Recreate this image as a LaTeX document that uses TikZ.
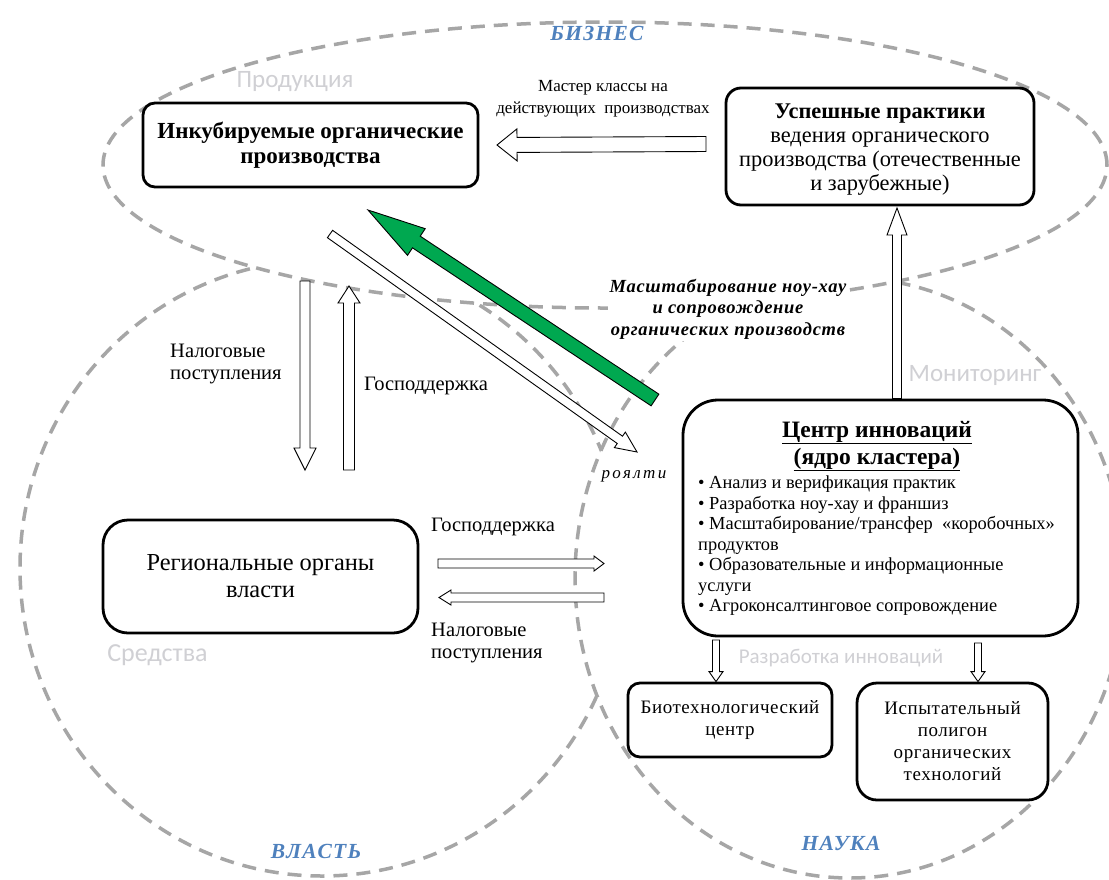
\documentclass[tikz,border=0pt]{standalone}
\usepackage{fontspec}
\setmainfont{Liberation Serif}
\newfontfamily\grayfont{Carlito}
\usetikzlibrary{calc}
\definecolor{dashgray}{RGB}{166,166,166}
\definecolor{lblgray}{RGB}{208,208,212}
\definecolor{lblblue}{RGB}{79,129,189}
\definecolor{arrgreen}{RGB}{0,168,80}
% opts, from, to, shaft half width, head half width, head length
\newcommand\myblockarrow[6][]{%
  \coordinate (bas) at (#2);
  \coordinate (bat) at (#3);
  \coordinate (bah) at ($(bat)!#6!(bas)$);
  \draw[#1] ($(bas)!#4!90:(bat)$) -- ($(bah)!#4!-90:(bas)$) -- ($(bah)!#5!-90:(bas)$) -- (bat)
     -- ($(bah)!#5!90:(bas)$) -- ($(bah)!#4!90:(bas)$) -- ($(bas)!#4!-90:(bat)$) -- cycle;
}
\tikzset{
 zone/.style={draw=dashgray, fill=white, line width=3.5pt, dash pattern=on 14pt off 9pt},
 box/.style={draw=black, line width=2.8pt, fill=white, rounded corners=#1, inner sep=0pt},
 hollow/.style={draw=black, line width=0.9pt, fill=white, line join=miter},
 greenarr/.style={draw=black, line width=0.9pt, fill=arrgreen, line join=miter},
 bluelbl/.style={text=lblblue, inner sep=0pt, font=\fontsize{21.5}{24}\selectfont\bfseries\itshape\addfontfeature{LetterSpace=6}},
 graylbl/.style={text=lblgray, inner sep=0pt, font=\grayfont\fontsize{#1}{24}\selectfont},
 lbl/.style={inner sep=0pt, font=\fontsize{20.5}{22}\selectfont},
}
\begin{document}
\begin{tikzpicture}[x=1pt,y=-1pt]
\useasboundingbox (0,0) rectangle (1109,879);
\clip (0,0) rectangle (1109,879);
\fill[white] (0,0) rectangle (1109,879);

% zones
\draw[zone] (322,568) ellipse [x radius=302pt, y radius=308pt];
\draw[zone] (850,578) ellipse [x radius=275pt, y radius=300pt];
\draw[zone] (605,165) ellipse [x radius=502pt, y radius=143pt];

% zone labels
\node[bluelbl] (lbiz) at (597,33) {БИЗНЕС};
\node[bluelbl] (lvl) at (316,851) {ВЛАСТЬ};
\node[bluelbl] (lnau) at (841,843) {НАУКА};
\node[graylbl=25] (lprod) at (295,82) {Продукция};
\node[graylbl=26] (lsred) at (157.5,655) {Средства};
\node[graylbl=25] (lmon) at (975,375) {Мониторинг};
\node[graylbl=21] (lraz) at (841,658) {Разработка инноваций};

% boxes
\node[box=12pt, minimum width=335pt, minimum height=84pt, align=center,
      font=\fontsize{23}{25}\selectfont\bfseries] (inc) at (310.5,145)
      {Инкубируемые органические\\производства};
\node[box=15pt, minimum width=308pt, minimum height=117pt] (usp) at (880,146.5) {};
\node[inner sep=0pt, align=center, font=\fontsize{22.4}{24}\selectfont] (uspt) at (880,149.5)
      {\textbf{Успешные практики}\\ведения органического\\производства (отечественные\\и зарубежные)};
\node[box=35pt, minimum width=395pt, minimum height=236pt] (cen) at (880.5,518) {};
\node[inner sep=0pt, align=center, font=\fontsize{23.5}{27}\selectfont\bfseries] (cent) at (877,446)
      {\underline{Центр  инноваций}\\\underline{(ядро кластера)}};
\node[inner sep=0pt, align=left, anchor=north west, font=\fontsize{18.4}{20.5}\selectfont] (cenb) at (698,476)
      {• Анализ и верификация практик\\
       • Разработка ноу-хау и франшиз\\
       • Масштабирование/трансфер \ «коробочных»\\
       продуктов\\
       • Образовательные и информационные\\
       услуги\\
       • Агроконсалтинговое сопровождение};
\node[box=25pt, minimum width=315pt, minimum height=113pt, align=center,
      font=\fontsize{24.4}{27}\selectfont] (reg) at (260.5,576.5)
      {Региональные органы\\власти};
\node[box=12pt, minimum width=204pt, minimum height=74pt, align=center,
      font=\fontsize{19}{22}\selectfont\addfontfeature{LetterSpace=3}] (bio) at (730,720)
      {Биотехнологический\\центр};
\node[box=20pt, minimum width=191pt, minimum height=117pt, align=center,
      font=\fontsize{19}{22}\selectfont\addfontfeature{LetterSpace=3}] (isp) at (952.5,741.5)
      {Испытательный\\полигон\\органических\\технологий};

% connector labels
\node[lbl, align=center, font=\fontsize{17}{22}\selectfont] (tmast) at (603,99)
      {Мастер классы на\\действующих \ производствах};
\node[lbl, align=left, anchor=west] (tnal1) at (170,364) {Налоговые\\поступления};
\node[lbl, anchor=west] (tgos1) at (364,386) {Господдержка};
\node[lbl, anchor=west] (tgos2) at (431,527) {Господдержка};
\node[lbl, align=left, anchor=west] (tnal2) at (431,643) {Налоговые\\поступления};
\node[inner sep=0pt, font=\fontsize{17}{20}\selectfont\itshape\addfontfeature{LetterSpace=14}] (troy) at (634,476) {роялти};
\node[fill=white, inner sep=2pt, align=center,
      font=\fontsize{18.5}{21.5}\selectfont\bfseries\itshape\addfontfeature{LetterSpace=4}] (tmas) at (728,309)
      {Масштабирование ноу-хау\\и сопровождение\\органических производств};

% connector end points
\coordinate (a1s) at (706,144);   \coordinate (a1t) at (inc.east -| 497,0);
\coordinate (a2s) at (cen.north -| 897,0); \coordinate (a2t) at (897,208);
\coordinate (a3s) at (305,281);   \coordinate (a3t) at (305,470);
\coordinate (a4s) at (349,470);   \coordinate (a4t) at (349,286);
\coordinate (a5s) at (330,234);   \coordinate (a5t) at (637,452);
\coordinate (a6s) at (655,400);   \coordinate (a6t) at (368,210);
\coordinate (a7s) at (438,563.5); \coordinate (a7t) at (604,563.5);
\coordinate (a8s) at (604,597.5); \coordinate (a8t) at (439,597.5);
\coordinate (a9s) at (716,640);   \coordinate (a9t) at (bio.north -| 716,0);
\coordinate (a10s) at (978,643);  \coordinate (a10t) at (isp.north -| 978,0);

% connectors
\myblockarrow[hollow]{a1s}{a1t}{7.5pt}{16pt}{20pt}
\myblockarrow[hollow]{a2s}{a2t}{4.5pt}{10pt}{27pt}
\myblockarrow[hollow]{a3s}{a3t}{5pt}{11pt}{22pt}
\myblockarrow[hollow]{a4s}{a4t}{5.5pt}{11pt}{17pt}
\myblockarrow[hollow]{a5s}{a5t}{4.5pt}{9.5pt}{21pt}
\myblockarrow[greenarr]{a6s}{a6t}{7pt}{16pt}{58pt}
\myblockarrow[hollow]{a7s}{a7t}{4.5pt}{7.5pt}{10pt}
\myblockarrow[hollow]{a8s}{a8t}{4.5pt}{7.5pt}{12pt}
\myblockarrow[hollow]{a9s}{a9t}{3.5pt}{7pt}{10pt}
\myblockarrow[hollow]{a10s}{a10t}{3.5pt}{7pt}{10pt}
\end{tikzpicture}
\end{document}
